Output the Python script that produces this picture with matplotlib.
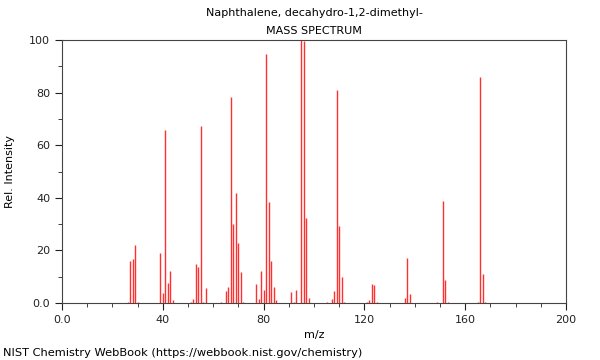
import matplotlib
matplotlib.use("Agg")
from matplotlib import pyplot as plt
from matplotlib.ticker import MultipleLocator, FuncFormatter

# peaks
mz = [26, 27, 28, 29, 30, 39, 40, 41, 42, 43, 44, 51, 52, 53, 54, 55, 56, 57,
      63, 65, 66, 67, 68, 69, 70, 71, 72, 77, 78, 79, 80, 81, 82, 83, 84, 85,
      91, 92, 93, 95, 96, 97, 98, 105, 107, 108, 109, 110, 111, 112,
      121, 122, 123, 124, 125, 136, 137, 138, 149, 151, 152, 153, 165, 166, 167, 168]
intensity = [0.5, 16.0, 16.7, 22.0, 0.5, 18.9, 3.7, 65.8, 7.7, 12.3, 1.0, 0.5, 1.5, 14.7, 13.8, 67.3, 0.3, 5.6,
             0.5, 4.7, 6.0, 78.2, 30.0, 41.7, 22.7, 11.8, 0.5, 7.1, 1.5, 12.2, 4.9, 94.5, 38.5, 16.0, 6.0, 1.0,
             4.3, 0.3, 4.9, 100.0, 99.6, 32.2, 2.0, 0.5, 1.5, 4.6, 81.0, 29.3, 10.0, 0.5,
             0.5, 1.0, 7.1, 6.7, 0.5, 2.0, 17.2, 3.4, 0.5, 38.9, 8.7, 0.3, 0.3, 85.8, 11.1, 0.5]

title = "Naphthalene, decahydro-1,2-dimethyl-"

fig = plt.figure(figsize=(6, 3.6), dpi=100)
ax = fig.add_axes([0.1033, 0.1583, 0.84, 0.7306])

ax.vlines(mz, 0, intensity, color="#ff3030", linewidth=1.0)

ax.set_xlim(0, 200)
ax.set_ylim(0, 100)
ax.xaxis.set_major_locator(MultipleLocator(40))
ax.xaxis.set_minor_locator(MultipleLocator(10))
ax.yaxis.set_major_locator(MultipleLocator(20))
ax.yaxis.set_minor_locator(MultipleLocator(10))
fmt = FuncFormatter(lambda v, p: "0.0" if v == 0 else f"{v:.0f}")
ax.xaxis.set_major_formatter(fmt)
ax.yaxis.set_major_formatter(fmt)
ax.tick_params(which="both", direction="out", labelsize=8, colors="#222222")
ax.tick_params(which="major", length=5)
ax.tick_params(which="minor", length=3)
for s in ax.spines.values():
    s.set_color("#444444")

ax.set_xlabel("m/z", fontsize=8)
ax.set_ylabel("Rel. Intensity", fontsize=8, labelpad=10)

fig.text(0.5 + 0.0233, 0.963, title, ha="center", va="center", fontsize=8)
fig.text(0.5 + 0.0233, 0.915, "MASS SPECTRUM", ha="center", va="center", fontsize=8)
fig.text(0.005, 0.02, "NIST Chemistry WebBook (https://webbook.nist.gov/chemistry)",
         ha="left", va="center", fontsize=8.2)

plt.savefig("out.png", dpi=100)
